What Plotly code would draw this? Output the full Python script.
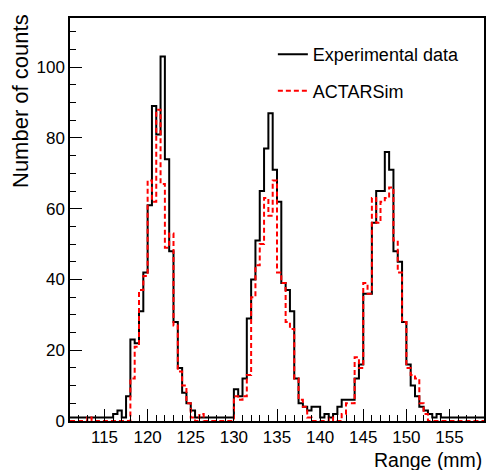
import numpy as np
import plotly.graph_objects as go

# Histogram binning (mm)
bin_start = 111.0
bin_width = 0.5

# Experimental data (counts per 0.5 mm bin, from 111.0 mm)
exp_counts = [
    1, 1, 1, 1, 1, 1, 1, 1, 1, 1,
    2, 3, 1, 7, 23, 22, 31, 42, 61, 89,
    81, 103, 74, 48, 28, 15, 8, 5, 3, 1,
    1, 1, 1, 1, 1, 1, 1, 1, 9, 7,
    12, 29, 40, 51, 65, 77, 87, 71, 62, 39,
    37, 31, 12, 5, 4, 3, 4, 4, 1, 2,
    1, 2, 4, 6, 6, 6, 12, 16, 36, 36,
    56, 65, 65, 76, 71, 48, 45, 28, 16, 10,
    7, 4, 3, 2, 1, 2, 1, 1, 1, 1,
    1, 1, 1, 1, 1, 1,
]

# ACTARSim simulation (counts per 0.5 mm bin, from 111.0 mm)
sim_counts = [
    0, 0, 0, 0, 1, 0, 0, 0, 0, 0,
    0, 0, 0, 0, 12, 21, 37, 41, 68, 62,
    88, 67, 49, 53, 27, 14, 10, 5, 1, 0,
    2, 0, 0, 0, 0, 0, 0, 0, 7, 6,
    7, 13, 35, 44, 50, 63, 58, 68, 42, 39,
    28, 26, 12, 6, 4, 1, 0, 0, 0, 0,
    1, 0, 0, 2, 5, 5, 18, 15, 39, 36,
    63, 56, 62, 63, 66, 51, 42, 28, 15, 13,
    12, 5, 2, 0, 0, 0, 0, 0, 0, 0,
    0, 0, 0, 0, 0, 0,
]

series_names = ["Experimental data", "ACTARSim"]
x_title = "Range (mm)"
y_title = "Number of counts"

n_bins = len(exp_counts)
edges = bin_start + bin_width * np.arange(n_bins + 1)


def step_xy(vals):
    xs = list(edges)
    ys = list(vals) + [vals[-1]]
    return xs, ys


FONT = "Liberation Sans, Arial, Helvetica, sans-serif"

fig = go.Figure()
xs, ys = step_xy(exp_counts)
fig.add_trace(go.Scatter(
    x=xs, y=ys, mode="lines", line=dict(shape="hv", color="#000000", width=2),
    name=series_names[0], legendgroup="a",
))
xs, ys = step_xy(sim_counts)
fig.add_trace(go.Scatter(
    x=xs, y=ys, mode="lines",
    line=dict(shape="hv", color="#ff0000", width=2, dash="5px,3px"),
    name=series_names[1], legendgroup="b",
))

fig.update_layout(
    width=489, height=470,
    margin=dict(l=70, r=3, t=18, b=49),
    paper_bgcolor="white", plot_bgcolor="white",
    font=dict(family=FONT, size=17, color="black"),
    showlegend=True,
    legend=dict(
        x=0.49, y=0.955, xanchor="left", yanchor="top",
        bgcolor="rgba(0,0,0,0)", borderwidth=0,
        font=dict(family=FONT, size=18, color="black"),
        tracegroupgap=10, itemwidth=30,
    ),
)

fig.update_xaxes(
    range=[edges[0], edges[-1]],
    showgrid=False, zeroline=False,
    showline=True, linecolor="black", linewidth=1.5, mirror=True,
    ticks="inside", ticklen=12, tickwidth=1, tickcolor="black",
    dtick=5, tick0=115,
    minor=dict(ticks="inside", ticklen=6, dtick=1, tick0=111, tickcolor="black"),
    tickfont=dict(family=FONT, size=17, color="black"),
)
fig.update_yaxes(
    range=[0, 113.9],
    showgrid=False, zeroline=False,
    showline=True, linecolor="black", linewidth=1.5, mirror=True,
    ticks="inside", ticklen=12, tickwidth=1, tickcolor="black",
    dtick=20, tick0=0,
    minor=dict(ticks="inside", ticklen=6, dtick=5, tick0=0, tickcolor="black"),
    tickfont=dict(family=FONT, size=17, color="black"),
)

fig.add_annotation(
    text=x_title, xref="paper", yref="paper", x=1, y=0,
    xanchor="right", yanchor="middle", yshift=-39, showarrow=False,
    font=dict(family=FONT, size=19.5, color="black"),
)
fig.add_annotation(
    text=y_title, xref="paper", yref="paper", x=0, y=1,
    xanchor="center", yanchor="top", xshift=-50, yshift=6, textangle=-90,
    showarrow=False, font=dict(family=FONT, size=22, color="black"),
)

fig.write_html(
    "out.html",
    config={"displayModeBar": False},
    post_script="document.body.style.margin='0';document.body.style.padding='0';",
)
